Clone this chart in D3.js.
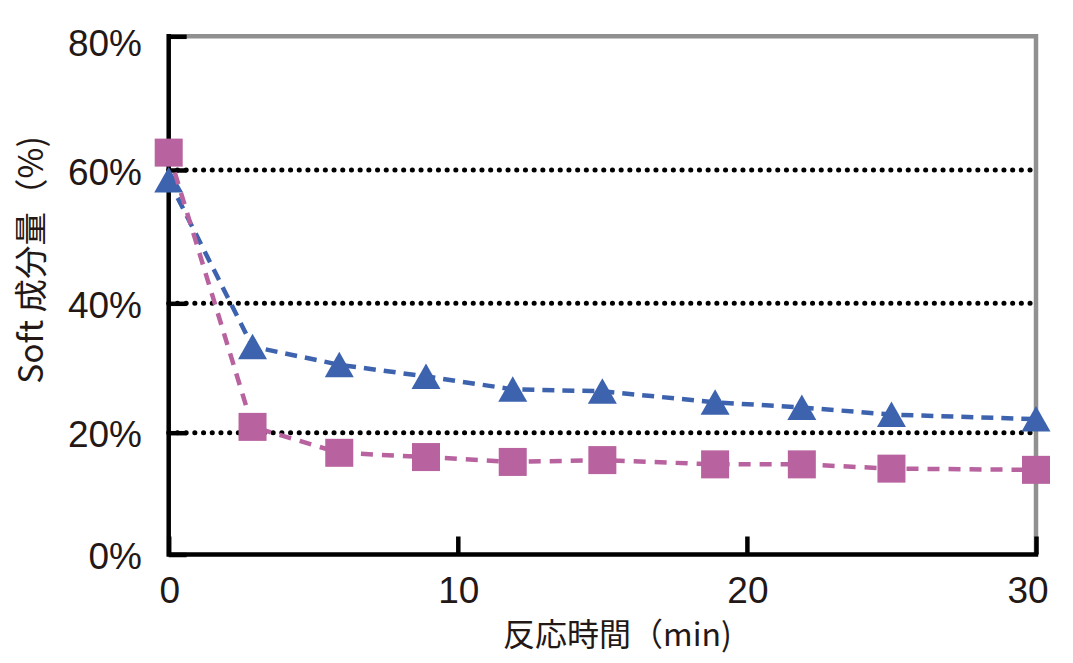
<!DOCTYPE html>
<html>
<head>
<meta charset="utf-8">
<script src="https://cdn.jsdelivr.net/npm/d3@7"></script>
<style>
  html, body { margin: 0; padding: 0; background: #fff; }
  svg { display: block; }
  text { font-family: "Liberation Sans", Arial, sans-serif; fill: #231815; }
  .cjk { font-family: "Noto Sans CJK JP", "Noto Sans", sans-serif; }
</style>
</head>
<body>
<svg id="chart" width="1073" height="663"></svg>
<script>
// ---- data ----
const times = [0, 2.9, 5.9, 8.9, 11.9, 15, 18.9, 21.9, 25, 30];
const seriesTriangle = [58.5, 33.3, 30.5, 28.7, 26.7, 26.4, 24.7, 23.9, 22.8, 22.1];
const seriesSquare = [62.6, 20.9, 16.7, 16.0, 15.2, 15.5, 14.8, 14.8, 14.1, 13.9];
const xTicks = [0, 10, 20, 30];
const yTicks = [0, 20, 40, 60, 80];
const yGrid = [20, 40, 60];
const xTitle = "反応時間（min)";
const yTitle = "Soft 成分量（%)";

(function () {
// ---- layout ----
const svg = d3.select("#chart");
const pLeft = 168.7, pRight = 1036, pTop = 36.3, pBottom = 554.5;

const x = d3.scaleLinear().domain([0, 30]).range([pLeft, pRight]);
// axis positions (slightly non-uniform spacing)
const y = d3.scaleLinear().domain(yTicks).range([554.5, 432.7, 303.3, 170, 36.3]);

const blue = "#3D63AE", pink = "#B8629F";

// gridlines (dotted)
svg.append("g").selectAll("line").data(yGrid).join("line")
  .attr("x1", pLeft).attr("x2", pRight)
  .attr("y1", d => y(d)).attr("y2", d => y(d))
  .attr("stroke", "#000").attr("stroke-width", 5)
  .attr("stroke-linecap", "round").attr("stroke-dasharray", "0.1 8.6");

// frame: gray top/right
svg.append("path")
  .attr("d", `M${pLeft},${pTop}H${pRight}V${pBottom}`)
  .attr("fill", "none").attr("stroke", "#909090").attr("stroke-width", 4.5);

// y axis with inward ticks
const yAxis = svg.append("g").attr("transform", `translate(${pLeft},0)`)
  .call(d3.axisRight(y).tickValues(yTicks).tickSize(18).tickFormat(""));
yAxis.select(".domain").remove();
yAxis.selectAll(".tick line").attr("stroke", "#000").attr("stroke-width", 4.5);

// x axis with inward ticks
const xAxis = svg.append("g").attr("transform", `translate(0,${pBottom})`)
  .call(d3.axisTop(x).tickValues(xTicks).tickSize(18).tickFormat(""));
xAxis.select(".domain").remove();
xAxis.selectAll(".tick line").attr("stroke", "#000").attr("stroke-width", 4.5);

// black left & bottom axis lines
svg.append("path")
  .attr("d", `M${pLeft},${pTop - 2.2}V${pBottom}H${pRight + 2.2}`)
  .attr("fill", "none").attr("stroke", "#000").attr("stroke-width", 4.5)
  .attr("stroke-linejoin", "miter");

// y tick labels
svg.append("g").selectAll("text").data(yTicks).join("text")
  .attr("x", 142)
  .attr("y", d => Math.max(y(d) + 2, 43))
  .attr("text-anchor", "end").attr("dominant-baseline", "central")
  .attr("font-size", 37)
  .text(d => d + "%");

// x tick labels
svg.append("g").selectAll("text").data(xTicks).join("text")
  .attr("x", d => Math.min(x(d) + 1, 1028))
  .attr("y", 590)
  .attr("text-anchor", "middle").attr("dominant-baseline", "central")
  .attr("font-size", 37)
  .text(d => d);

// axis titles
svg.append("text").attr("class", "cjk")
  .attr("x", 617.5).attr("y", 632)
  .attr("text-anchor", "middle").attr("dominant-baseline", "central")
  .attr("font-size", 32)
  .text(xTitle);

svg.append("text").attr("class", "cjk")
  .attr("transform", "translate(28,260) rotate(-90)")
  .attr("text-anchor", "middle").attr("dominant-baseline", "central")
  .attr("font-size", 33.5)
  .text(yTitle);

// series
const line = d3.line().x(d => x(d[0])).y(d => y(d[1]));
const triData = times.map((t, i) => [t, seriesTriangle[i]]);
const sqData = times.map((t, i) => [t, seriesSquare[i]]);

svg.append("path").datum(triData).attr("d", line)
  .attr("fill", "none").attr("stroke", blue).attr("stroke-width", 4.5)
  .attr("stroke-dasharray", "12 8");
svg.append("g").selectAll("path").data(triData).join("path")
  .attr("transform", d => `translate(${x(d[0])},${y(d[1])})`)
  .attr("d", "M0,-13L14.5,12.5L-14.5,12.5Z")
  .attr("fill", blue);

svg.append("path").datum(sqData).attr("d", line)
  .attr("fill", "none").attr("stroke", pink).attr("stroke-width", 4.5)
  .attr("stroke-dasharray", "12 9");
svg.append("g").selectAll("rect").data(sqData).join("rect")
  .attr("x", d => x(d[0]) - 14).attr("y", d => y(d[1]) - 14)
  .attr("width", 28).attr("height", 28)
  .attr("fill", pink);
})();
</script>
</body>
</html>
